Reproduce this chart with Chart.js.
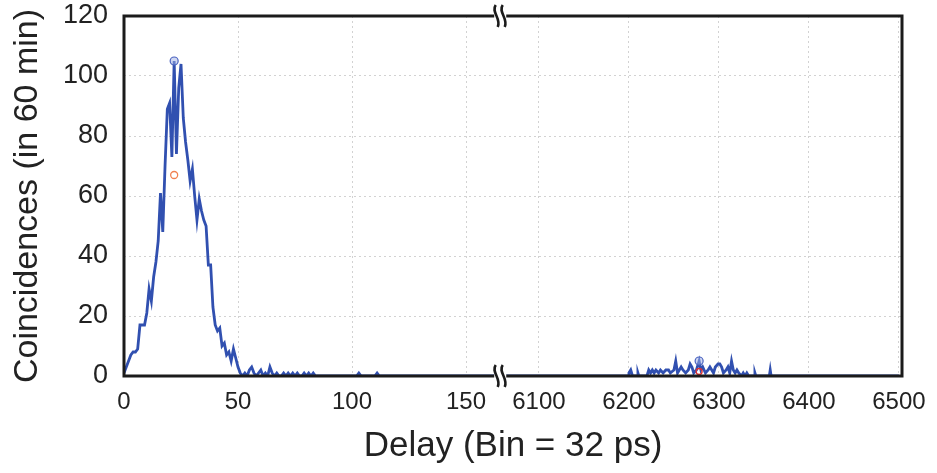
<!DOCTYPE html>
<html>
<head>
<meta charset="utf-8">
<script src="https://cdn.jsdelivr.net/npm/chart.js@4.4.1/dist/chart.umd.min.js"></script>
<style>
  html, body { margin: 0; padding: 0; background: #fff; }
  #wrap { width: 937px; height: 473px; }
</style>
</head>
<body>
<div id="wrap"><canvas id="coinChart"></canvas></div>
<script>
// Coïncidences par bin autour du délai nul
const nearDelay = [0, 1, 2, 3, 4, 5, 6, 7, 8, 9, 10, 11, 12, 13, 14, 15, 16, 17, 18, 19,
    20, 21, 22, 23, 24, 25, 26, 27, 28, 29, 30, 31, 32, 33, 34, 35, 36, 37, 38, 39,
    40, 41, 42, 43, 44, 45, 46, 47, 48, 49, 50, 51, 52, 53, 54, 55, 56, 57, 58, 59,
    60, 61, 62, 63, 64, 65, 66, 67, 68, 69, 70, 71, 72, 73, 74, 75, 76, 77, 78, 79,
    80, 81, 82, 83, 84, 85, 102, 103, 104, 110, 111, 112, 165];
const nearCounts = [1, 3, 5, 7, 8, 8, 9, 17, 17, 17, 21, 29, 25, 33, 38, 45, 61, 48, 70, 89,
    91, 73, 105, 74, 96, 104, 86, 78, 72, 65, 69, 60, 52, 59, 55, 52, 50, 37, 37, 23,
    17, 15, 16, 10, 11, 7, 8, 5, 9, 6, 3, 1, 0, 1, 0, 2, 3, 1, 0, 1,
    2, 0, 1, 0, 3, 1, 0, 1, 0, 0, 1, 0, 1, 0, 1, 0, 1, 0, 0, 1,
    0, 1, 0, 1, 0, 0, 0, 1, 0, 0, 1, 0, 0];

// Coïncidences loin du pic (délai ~6200-6360)
const farDelay = [6057, 6199, 6200, 6202, 6204, 6209, 6210, 6211, 6220, 6222, 6224, 6226, 6228,
    6230, 6233, 6235, 6238, 6241, 6244, 6246, 6250, 6252, 6254, 6256, 6258, 6260, 6263,
    6266, 6268, 6270, 6272, 6275, 6278, 6280, 6282, 6285, 6288, 6290, 6292, 6294, 6296,
    6299, 6301, 6303, 6305, 6308, 6310, 6312, 6314, 6316, 6318, 6320, 6322, 6325, 6327,
    6329, 6331, 6333, 6339, 6340, 6341, 6356, 6357, 6358, 6500];
const farCounts = [0, 0, 1, 2, 0, 0, 1, 0, 0, 2, 1, 2, 1,
    2, 1, 2, 1, 2, 2, 1, 2, 5, 1, 2, 3, 2, 1,
    2, 4, 3, 1, 2, 5, 2, 3, 1, 2, 3, 2, 1, 3,
    4, 4, 3, 1, 2, 3, 1, 5, 2, 1, 2, 1, 0, 1,
    0, 1, 0, 0, 1, 0, 0, 2, 0, 0];

// Repères (maximum et centre)
const peakMarkers = [{ x: 22, y: 105 }, { x: 6278, y: 5 }];
const centerMarker = [{ x: 22, y: 67 }];
const farCenterMarker = [{ x: 6278, y: 1.5 }];

// Graduations
const xTickValues = [0, 50, 100, 150, 6100, 6200, 6300, 6400, 6500];
const yTickValues = [0, 20, 40, 60, 80, 100, 120];

// Axe coupé : 0-165 puis 6057-6500 compressé
const BREAK_LOW = 165;
const BREAK_HIGH = 6057;
const FAR_RATIO = 0.3947;
function toAxis(v) {
    return v <= BREAK_LOW ? v : BREAK_LOW + (v - BREAK_HIGH) * FAR_RATIO;
}
function toPoints(xs, ys) {
    return xs.map((x, i) => ({ x: toAxis(x), y: ys[i] }));
}
function mapMarkers(list) {
    return list.map(p => ({ x: toAxis(p.x), y: p.y }));
}

const blue = '#3150b0';
const gridDash = [2, 3];

// Cadre noir + marques de coupure
const framePlugin = {
    id: 'frame',
    afterDatasetsDraw(chart) {
        const { ctx, chartArea: a, scales } = chart;
        ctx.save();
        ctx.strokeStyle = '#1b1b1b';
        ctx.lineWidth = 3;
        ctx.strokeRect(a.left, a.top, a.right - a.left, a.bottom - a.top);

        const bx = scales.x.getPixelForValue(BREAK_LOW);
        [a.top, a.bottom].forEach(y => {
            ctx.fillStyle = '#fff';
            ctx.fillRect(bx - 6, y - 3, 12, 6);
            ctx.strokeStyle = '#1b1b1b';
            ctx.lineWidth = 2.6;
            [-3.5, 3.5].forEach(dx => {
                const cx = bx + dx;
                ctx.beginPath();
                ctx.moveTo(cx - 1, y - 11);
                ctx.bezierCurveTo(cx - 6, y - 4, cx + 5, y + 3, cx + 1, y + 11);
                ctx.stroke();
            });
        });
        ctx.restore();
    }
};

const ctx = document.getElementById('coinChart').getContext('2d');
const coinChart = new Chart(ctx, {
    type: 'line',
    data: {
        datasets: [
            {
                data: mapMarkers(peakMarkers),
                showLine: false,
                pointRadius: 4,
                pointBorderWidth: 1.2,
                pointBorderColor: '#4a63c0',
                pointBackgroundColor: 'rgba(160,175,230,0.5)'
            },
            {
                data: mapMarkers(centerMarker),
                showLine: false,
                pointRadius: 3.5,
                pointBorderWidth: 1.3,
                pointBorderColor: '#f08050',
                pointBackgroundColor: 'rgba(255,255,255,0)'
            },
            {
                data: mapMarkers(farCenterMarker),
                showLine: false,
                pointRadius: 3,
                pointBorderWidth: 1.3,
                pointBorderColor: '#e03030',
                pointBackgroundColor: 'rgba(255,255,255,0)'
            },
            {
                data: toPoints(nearDelay, nearCounts),
                borderColor: blue,
                borderWidth: 2.8,
                pointRadius: 0,
                tension: 0
            },
            {
                data: toPoints(farDelay, farCounts),
                borderColor: blue,
                borderWidth: 2.8,
                pointRadius: 0,
                tension: 0
            }
        ]
    },
    options: {
        responsive: true,
        maintainAspectRatio: false,
        animation: false,
        layout: { padding: { top: 16, right: 35, bottom: 0, left: 0 } },
        plugins: {
            legend: { display: false },
            tooltip: { enabled: false }
        },
        scales: {
            x: {
                type: 'linear',
                min: 0,
                max: 341.2,
                afterBuildTicks: axis => {
                    axis.ticks = xTickValues.map(v => ({ value: toAxis(v) }));
                },
                afterFit: scale => {
                    scale.height = 97;
                    scale.paddingLeft = 0;
                    scale.paddingRight = 0;
                },
                ticks: {
                    autoSkip: false,
                    maxRotation: 0,
                    padding: 12,
                    color: '#222',
                    font: { family: 'Liberation Sans', size: 24 },
                    callback: (value, index) => String(xTickValues[index])
                },
                grid: { color: '#d2d2d2', lineWidth: 1, drawTicks: false },
                border: { display: false, dash: gridDash },
                title: {
                    display: true,
                    text: 'Delay (Bin = 32 ps)',
                    color: '#222',
                    font: { family: 'Liberation Sans', size: 35 },
                    padding: { top: 0, bottom: 6 }
                }
            },
            y: {
                min: 0,
                max: 120,
                afterBuildTicks: axis => {
                    axis.ticks = yTickValues.map(v => ({ value: v }));
                },
                afterFit: scale => {
                    scale.width = 124;
                    scale.paddingTop = 0;
                    scale.paddingBottom = 0;
                },
                ticks: {
                    padding: 16,
                    color: '#222',
                    font: { family: 'Liberation Sans', size: 27 }
                },
                grid: { color: '#d2d2d2', lineWidth: 1, drawTicks: false },
                border: { display: false, dash: gridDash },
                title: {
                    display: true,
                    text: 'Coincidences (in 60 min)',
                    color: '#222',
                    font: { family: 'Liberation Sans', size: 34 },
                    padding: { top: 7, bottom: 0 }
                }
            }
        }
    },
    plugins: [framePlugin]
});
</script>
</body>
</html>
